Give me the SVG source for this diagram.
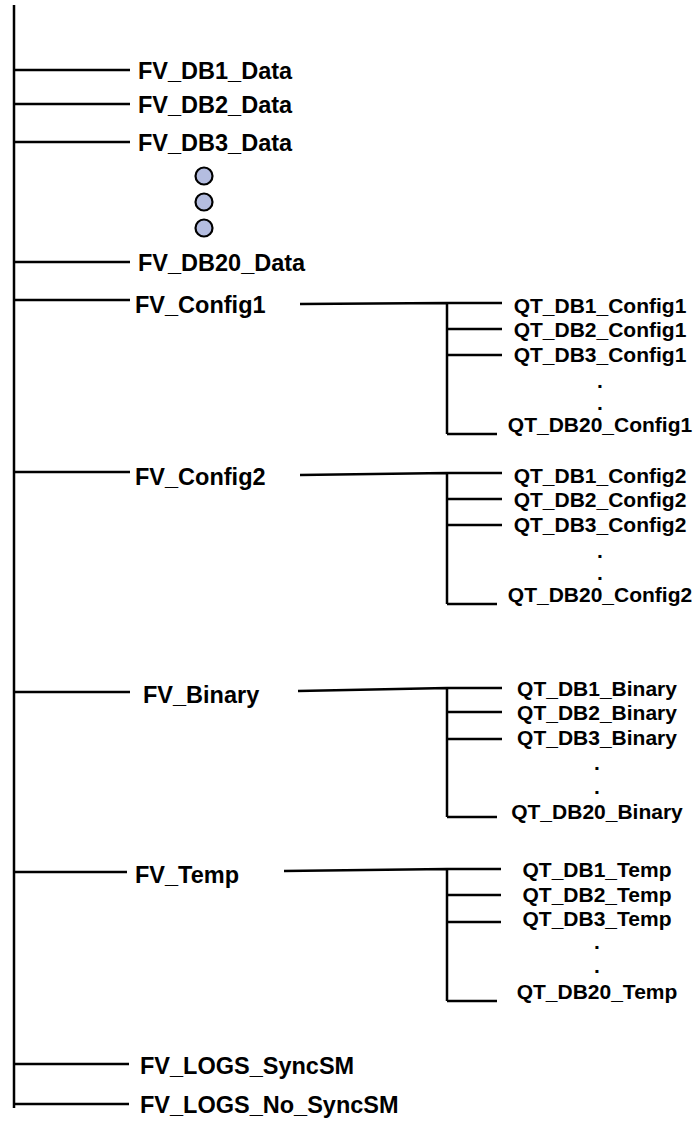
<svg xmlns="http://www.w3.org/2000/svg" width="697" height="1124" viewBox="0 0 697 1124">
<style>
.ln{stroke:#000;stroke-width:2.5;fill:none}
.fv{font-family:"Liberation Sans",Arial,sans-serif;font-weight:bold;font-size:23.5px;fill:#000}
.qt{font-family:"Liberation Sans",Arial,sans-serif;font-weight:bold;font-size:21px;fill:#000;text-anchor:middle}
.dot{fill:#b4bde0;stroke:#000;stroke-width:2.2}
</style>
<rect width="697" height="1124" fill="#fff"/>
<g id="connectors">
<path class="ln" d="M14 5V1108"/>
<path class="ln" d="M14 70H130M14 104H130M14 142H130M14 262H130M14 300H130M14 472H130M14 692H130M14 872H127M14 1064H129M14 1104H129"/>
<path class="ln" d="M300 304L447 303M447 303V434M447 303H502M447 329H502M447 355H502M447 434H497"/>
<path class="ln" d="M300 475L447 473M447 473V604M447 473H502M447 499H502M447 525H502M447 604H497"/>
<path class="ln" d="M298 691L447 688M447 688V817M447 688H502M447 712H502M447 739H502M447 817H497"/>
<path class="ln" d="M284 871L447 869M447 869V1001M447 869H501M447 895H501M447 922H501M447 1001H497"/>
</g>
<g id="fv_db1_data"><text class="fv" x="138" y="79">FV_DB1_Data</text></g>
<g id="fv_db2_data"><text class="fv" x="138" y="113">FV_DB2_Data</text></g>
<g id="fv_db3_data"><text class="fv" x="138" y="151">FV_DB3_Data</text></g>
<g id="ellipsis"><circle class="dot" cx="204" cy="176" r="8.5"/><circle class="dot" cx="204" cy="202" r="8.5"/><circle class="dot" cx="204" cy="228" r="8.5"/></g>
<g id="fv_db20_data"><text class="fv" x="138" y="271">FV_DB20_Data</text></g>
<g id="fv_config1"><text class="fv" x="135" y="313">FV_Config1</text></g>
<g id="qt_config1">
<text class="qt" x="600" y="313">QT_DB1_Config1</text>
<text class="qt" x="600" y="337">QT_DB2_Config1</text>
<text class="qt" x="600" y="362">QT_DB3_Config1</text>
<text class="qt" x="600" y="388">.</text>
<text class="qt" x="600" y="410">.</text>
<text class="qt" x="600" y="432">QT_DB20_Config1</text>
</g>
<g id="fv_config2"><text class="fv" x="135" y="485">FV_Config2</text></g>
<g id="qt_config2">
<text class="qt" x="600" y="483">QT_DB1_Config2</text>
<text class="qt" x="600" y="507">QT_DB2_Config2</text>
<text class="qt" x="600" y="532">QT_DB3_Config2</text>
<text class="qt" x="600" y="558">.</text>
<text class="qt" x="600" y="580">.</text>
<text class="qt" x="600" y="602">QT_DB20_Config2</text>
</g>
<g id="fv_binary"><text class="fv" x="143" y="703">FV_Binary</text></g>
<g id="qt_binary">
<text class="qt" x="597" y="696">QT_DB1_Binary</text>
<text class="qt" x="597" y="720">QT_DB2_Binary</text>
<text class="qt" x="597" y="745">QT_DB3_Binary</text>
<text class="qt" x="597" y="770">.</text>
<text class="qt" x="597" y="794">.</text>
<text class="qt" x="597" y="819">QT_DB20_Binary</text>
</g>
<g id="fv_temp"><text class="fv" x="135" y="883">FV_Temp</text></g>
<g id="qt_temp">
<text class="qt" x="597" y="877">QT_DB1_Temp</text>
<text class="qt" x="597" y="902">QT_DB2_Temp</text>
<text class="qt" x="597" y="926">QT_DB3_Temp</text>
<text class="qt" x="597" y="949">.</text>
<text class="qt" x="597" y="973">.</text>
<text class="qt" x="597" y="999">QT_DB20_Temp</text>
</g>
<g id="fv_logs_syncsm"><text class="fv" x="140" y="1074">FV_LOGS_SyncSM</text></g>
<g id="fv_logs_no_syncsm"><text class="fv" x="140" y="1113">FV_LOGS_No_SyncSM</text></g>
</svg>
